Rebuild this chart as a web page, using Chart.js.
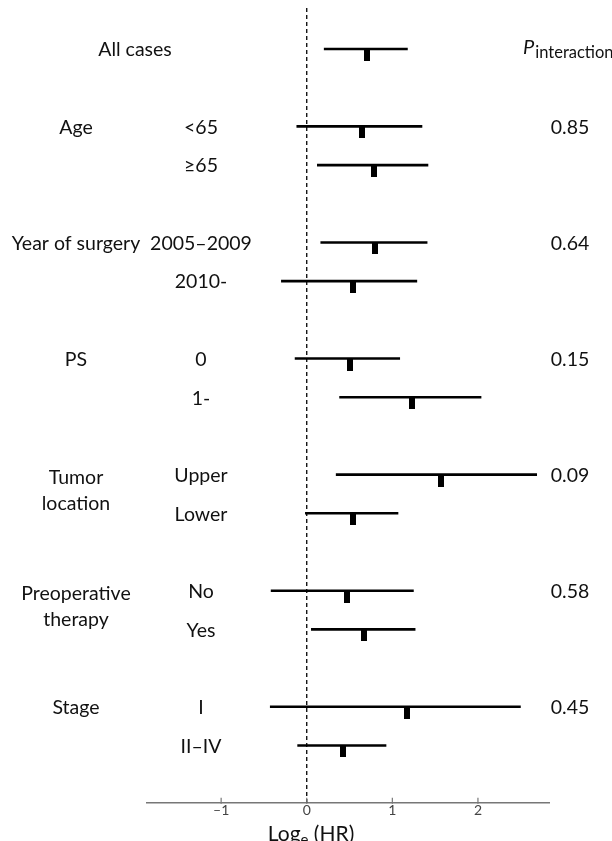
<!DOCTYPE html>
<html>
<head>
<meta charset="utf-8">
<script src="https://cdn.jsdelivr.net/npm/chart.js@4"></script>
<style>
html,body{margin:0;padding:0;background:#fff;}
#wrap{width:612px;height:841px;position:relative;}
canvas{display:block;}
</style>
</head>
<body>
<div id="wrap"><canvas id="c" width="612" height="841"></canvas></div>
<script>
// ---- data ----
const groupLabels = ["All cases", "Age", "Year of surgery", "PS", "Tumor\nlocation", "Preoperative\ntherapy", "Stage"];
const pInteraction = ["", "0.85", "0.64", "0.15", "0.09", "0.58", "0.45"];
const subgroupLabels = ["", "<65", "≥65", "2005–2009", "2010-", "0", "1-", "Upper", "Lower", "No", "Yes", "I", "II–IV"];
const rowGroup = [0, 1, 1, 2, 2, 3, 3, 4, 4, 5, 5, 6, 6];
const estimate = [0.70, 0.64, 0.78, 0.80, 0.54, 0.50, 1.23, 1.57, 0.54, 0.47, 0.67, 1.17, 0.42];
const lowerCI  = [0.20, -0.12, 0.12, 0.16, -0.30, -0.14, 0.38, 0.34, -0.02, -0.42, 0.05, -0.43, -0.11];
const upperCI  = [1.18, 1.35, 1.42, 1.41, 1.29, 1.09, 2.04, 2.69, 1.07, 1.25, 1.27, 2.50, 0.93];
const xTicks = [-1, 0, 1, 2];
const xTickLabels = ["–1", "0", "1", "2"];
const xTitle = ["Log", "e", " (HR)"];
const pHeader = ["P", "interaction"];

// row slot: groups separated by one empty slot
function slotOf(i) {
  const g = rowGroup[i];
  if (g === 0) return 0;
  let j = 0;
  for (let k = 0; k < i; k++) if (rowGroup[k] === g) j++;
  return 3 * g - 1 + j;
}
const slots = estimate.map((_, i) => slotOf(i));

const FONT = "Lato, 'Open Sans', sans-serif";
const LABEL_FONT = "19.5px " + FONT;

// marker: small black block hanging below the CI line
const mk = document.createElement('canvas');
mk.width = 6; mk.height = 24;
(function(){ const c = mk.getContext('2d'); c.fillStyle = '#000'; c.fillRect(0, 12, 6, 12); })();

const datasets = [];
// reference line at 0 (dashed)
datasets.push({
  type: 'line',
  data: [{x: 0, y: -1.06}, {x: 0, y: 19.48}],
  borderColor: '#000', borderWidth: 1.3, borderDash: [4, 3],
  pointRadius: 0, fill: false
});
// CI lines
estimate.forEach((_, i) => {
  datasets.push({
    type: 'line',
    data: [{x: lowerCI[i], y: slots[i]}, {x: upperCI[i], y: slots[i]}],
    borderColor: '#000', borderWidth: 2.6, pointRadius: 0, fill: false,
    borderCapStyle: 'butt'
  });
});
// point estimates
datasets.push({
  type: 'scatter',
  data: estimate.map((v, i) => ({x: v, y: slots[i]})),
  pointStyle: mk, pointRadius: 6, pointHoverRadius: 6
});

const textPlugin = {
  id: 'forestText',
  afterDraw(chart) {
    const ctx = chart.ctx;
    const xs = chart.scales.x, ys = chart.scales.y;
    const axisY = chart.chartArea.bottom;
    ctx.save();
    // axis tick marks and labels
    ctx.strokeStyle = '#777'; ctx.lineWidth = 1.2;
    ctx.fillStyle = '#444';
    ctx.font = "14px " + FONT;
    ctx.textAlign = 'center'; ctx.textBaseline = 'top';
    xTicks.forEach((t, i) => {
      const px = xs.getPixelForValue(t);
      ctx.beginPath(); ctx.moveTo(px, axisY - 5); ctx.lineTo(px, axisY + 1); ctx.stroke();
      ctx.fillText(xTickLabels[i], px, axisY + 1);
    });
    // axis title with subscript
    ctx.fillStyle = '#111';
    ctx.textBaseline = 'alphabetic'; ctx.textAlign = 'left';
    const big = "21px " + FONT, small = "15px " + FONT;
    ctx.font = big; const w1 = ctx.measureText(xTitle[0]).width, w3 = ctx.measureText(xTitle[2]).width;
    ctx.font = small; const w2 = ctx.measureText(xTitle[1]).width;
    let tx = 311 - (w1 + w2 + w3) / 2;
    const tb = 841;
    ctx.font = big; ctx.fillText(xTitle[0], tx, tb); tx += w1;
    ctx.font = small; ctx.fillText(xTitle[1], tx, tb + 4); tx += w2;
    ctx.font = big; ctx.fillText(xTitle[2], tx, tb);

    // left labels
    ctx.fillStyle = '#111';
    ctx.textAlign = 'center'; ctx.textBaseline = 'middle';
    ctx.font = LABEL_FONT;
    groupLabels.forEach((lab, g) => {
      const rows = rowGroup.map((v, i) => v === g ? i : -1).filter(i => i >= 0);
      const y0 = ys.getPixelForValue(slots[rows[0]]);
      const y1 = ys.getPixelForValue(slots[rows[rows.length - 1]]);
      const lines = lab.split('\n');
      const cx = g === 0 ? 135 : 76;
      if (lines.length === 1) {
        ctx.fillText(lines[0], cx, y0 + 1);
      } else {
        const mid = (y0 + y1) / 2 - 3.5;
        ctx.fillText(lines[0], cx, mid - 13);
        ctx.fillText(lines[1], cx, mid + 13);
      }
      if (pInteraction[g]) ctx.fillText(pInteraction[g], 570, y0 + 1);
    });
    subgroupLabels.forEach((lab, i) => {
      if (!lab) return;
      ctx.fillText(lab, 201, ys.getPixelForValue(slots[i]) + 1);
    });
    // P interaction header
    const hy = ys.getPixelForValue(0);
    ctx.textAlign = 'left'; ctx.textBaseline = 'alphabetic';
    ctx.font = "italic 20px " + FONT;
    ctx.fillText(pHeader[0], 523, hy + 5);
    const pw = ctx.measureText(pHeader[0]).width;
    ctx.font = "16.5px " + FONT;
    ctx.fillText(pHeader[1], 523 + pw + 1, hy + 9);
    ctx.restore();
  }
};

new Chart(document.getElementById('c'), {
  type: 'scatter',
  data: { datasets },
  options: {
    responsive: false,
    animation: false,
    events: [],
    layout: { padding: { left: 147, right: 63, top: 8, bottom: 18.3 } },
    plugins: { legend: { display: false }, tooltip: { enabled: false } },
    scales: {
      x: {
        type: 'linear', min: -1.866, max: 2.83,
        afterBuildTicks: (s) => { s.ticks = xTicks.map(v => ({value: v})); },
        afterFit: (s) => { s.height = 20; },
        grid: { display: false, drawOnChartArea: false, drawTicks: false },
        border: { display: true, color: '#777', width: 1.5 },
        ticks: { display: false }
      },
      y: {
        type: 'linear', min: -1.06, max: 19.48, reverse: true,
        display: false
      }
    }
  },
  plugins: [textPlugin]
});
</script>
</body>
</html>
